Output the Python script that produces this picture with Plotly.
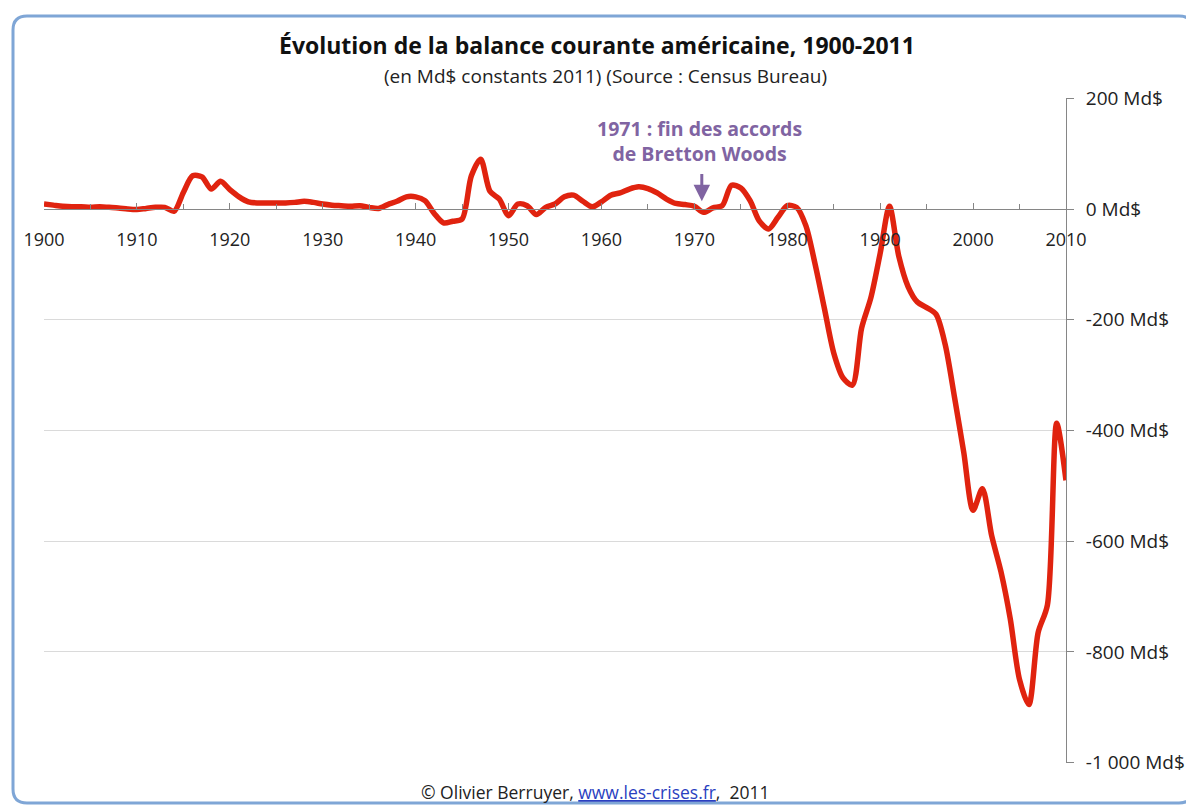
import plotly.graph_objects as go

years = list(range(1900, 2011))
balance = [
    9, 7, 5, 4, 4, 3, 4, 3, 2, 0,            # 1900-1909
    -1, 1, 3, 3, -4, 30, 60, 58, 36, 50,     # 1910-1919
    35, 22, 13, 11, 11, 11, 11, 12, 14, 12,  # 1920-1929
    9, 7, 6, 5, 6, 3, 1, 8, 14, 22,          # 1930-1939
    22, 15, -8, -25, -22, -18, 60, 90, 32, 18,  # 1940-1949
    -12, 9, 6, -10, 3, 9, 22, 25, 14, 4,     # 1950-1959
    13, 25, 29, 36, 40, 37, 29, 18, 10, 8,   # 1960-1969
    5, -6, 2, 6, 43, 38, 15, -22, -36, -15,  # 1970-1979
    6, 3, -30, -100, -180, -260, -305, -318, -215, -160,  # 1980-1989
    -80, 5, -85, -140, -168, -178, -190, -245, -340, -440,  # 1990-1999
    -544, -505, -590, -655, -740, -850, -895, -765, -715, -387,  # 2000-2009
    -490,                                    # 2010
]

x_tick_vals = [1900, 1910, 1920, 1930, 1940, 1950, 1960, 1970, 1980, 1990, 2000, 2010]
x_tick_text = [str(v) for v in x_tick_vals]
y_tick_vals = [200, 0, -200, -400, -600, -800, -1000]
y_tick_text = ["200 Md$", "0 Md$", "-200 Md$", "-400 Md$", "-600 Md$", "-800 Md$", "-1 000 Md$"]

title_text = "Évolution de la balance courante américaine, 1900-2011"
subtitle_text = "(en Md$ constants 2011) (Source : Census Bureau)"
note_text = "1971 : fin des accords<br>de Bretton Woods"
note_year = 1971
footer_text = ("© Olivier Berruyer, <span style='color:#2a3fc0;text-decoration:underline'>"
               "www.les-crises.fr</span>,  2011")

FONT = "'Open Sans', Lato, sans-serif"
OFF = 8  # page body margin
W, H = 1194 - OFF, 805 - OFF
# plot area in page pixels: x 44..1066, y 98..763
ML, MT = 44 - OFF, 98 - OFF
PW, PH = 1066 - 44, 763 - 98
MR, MB = W - ML - PW, H - MT - PH

Y_MIN, Y_MAX = -1000, 200

fig = go.Figure()
fig.add_trace(go.Scatter(
    x=years, y=balance, mode="lines",
    line=dict(color="#E0230F", width=5.5, shape="spline", smoothing=0.8),
    hoverinfo="x+y", showlegend=False,
))

def px_x(p):
    return (p - OFF - ML) / PW

def px_y(p):
    return (H - MB - (p - OFF)) / PH

# rounded border around the chart
x0, x1 = px_x(13), px_x(1193)
y0, y1 = px_y(16), px_y(803)
rx = 14 / PW
ry = 14 / PH
path = (f"M {x0+rx},{y0} L {x1-rx},{y0} Q {x1},{y0} {x1},{y0-ry} "
        f"L {x1},{y1+ry} Q {x1},{y1} {x1-rx},{y1} L {x0+rx},{y1} "
        f"Q {x0},{y1} {x0},{y1+ry} L {x0},{y0-ry} Q {x0},{y0} {x0+rx},{y0} Z")
fig.add_shape(type="path", path=path, xref="paper", yref="paper",
              line=dict(color="#7FA6D6", width=3), layer="below")

zero_pos = (0 - Y_MIN) / (Y_MAX - Y_MIN)

fig.update_layout(
    width=W, height=H,
    margin=dict(l=ML, r=MR, t=MT, b=MB, autoexpand=False),
    paper_bgcolor="white", plot_bgcolor="white",
    font=dict(family=FONT, color="#222222"),
    xaxis=dict(
        range=[1900, 2010], anchor="free", position=zero_pos, side="bottom",
        tickvals=x_tick_vals, ticktext=x_tick_text,
        ticks="inside", ticklen=6, tickcolor="#868686",
        minor=dict(dtick=5, tick0=1900, ticks="inside", ticklen=5, tickcolor="#868686"),
        showline=True, linecolor="#868686", linewidth=1,
        showgrid=False, zeroline=False, automargin=False,
        tickfont=dict(size=18, color="#222222", family=FONT),
        ticklabelstandoff=15,
    ),
    yaxis=dict(
        range=[Y_MIN - 0.5, Y_MAX + 0.5], side="right",
        tickvals=y_tick_vals, ticktext=y_tick_text,
        ticks="outside", ticklen=7, tickcolor="#868686",
        showline=True, linecolor="#868686", linewidth=1,
        showgrid=True, gridcolor="#DADADA", gridwidth=1,
        zeroline=False, automargin=False,
        tickfont=dict(size=19, color="#222222", family=FONT),
        ticklabelstandoff=8,
    ),
)

fig.add_annotation(text=f"<b>{title_text}</b>", xref="paper", yref="paper",
                   x=px_x(597), y=px_y(45), showarrow=False,
                   font=dict(size=23, color="#111111", family=FONT),
                   xanchor="center", yanchor="middle")
fig.add_annotation(text=subtitle_text, xref="paper", yref="paper",
                   x=px_x(605), y=px_y(76), showarrow=False,
                   font=dict(size=19, color="#222222", family=FONT),
                   xanchor="center", yanchor="middle")
fig.add_annotation(text=f"<b>{note_text}</b>", xref="x", yref="paper",
                   x=note_year - 0.5, y=px_y(141), showarrow=False,
                   font=dict(size=19.5, color="#8064A2", family=FONT),
                   xanchor="center", yanchor="middle", align="center")
fig.add_annotation(text="", xref="x", yref="y", x=note_year - 0.2, y=14,
                   axref="x", ayref="y", ax=note_year - 0.2, ay=66,
                   showarrow=True, arrowhead=2, arrowsize=1.1, arrowwidth=3,
                   arrowcolor="#8064A2")
fig.add_annotation(text=footer_text, xref="paper", yref="paper",
                   x=px_x(595), y=px_y(792), showarrow=False,
                   font=dict(size=17.5, color="#222222", family=FONT),
                   xanchor="center", yanchor="middle")

fig.write_html("out.html")
